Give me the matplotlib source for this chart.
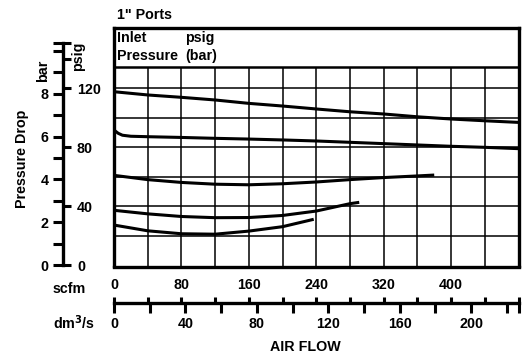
import numpy as np
import matplotlib
matplotlib.use("Agg")
import matplotlib.pyplot as plt

plt.rcParams['font.family'] = ['Liberation Sans', 'DejaVu Sans']
plt.rcParams['font.weight'] = 'bold'
plt.rcParams['font.size'] = 10.3

# ---- data (scfm on x, psig on y) ----
flow_scfm = [0, 40, 80, 120, 160, 200, 240, 280, 320, 360, 400, 440, 480]
drop_120 = [117.5, 115.3, 113.7, 111.9, 109.6, 107.8, 105.8, 103.9, 102.4, 100.5, 99.0, 97.8, 96.7]

flow_80 = [0, 5, 10, 20, 40, 80, 120, 160, 200, 240, 280, 320, 360, 400, 440, 480]
drop_80 = [91.5, 89.3, 88.0, 87.3, 87.0, 86.5, 85.9, 85.4, 84.8, 84.1, 83.2, 82.3, 81.4, 80.5, 79.8, 78.9]

flow_60 = [0, 40, 80, 120, 160, 200, 240, 280, 320, 360, 380]
drop_60 = [60.8, 57.9, 56.0, 54.8, 54.4, 55.1, 56.3, 57.9, 59.3, 60.4, 61.0]

flow_40 = [0, 40, 80, 120, 160, 200, 240, 280, 291]
drop_40 = [37.1, 34.7, 32.9, 32.1, 32.2, 33.6, 36.6, 41.6, 42.5]

flow_20 = [0, 40, 80, 120, 160, 200, 237]
drop_20 = [27.1, 23.2, 21.2, 20.9, 23.0, 26.0, 31.0]

scfm_ticks = list(range(0, 481, 40))
scfm_labels = ['0', '', '80', '', '160', '', '240', '', '320', '', '400', '', '']
dm3s_ticks = list(range(0, 221, 20))
dm3s_labels = ['0', '', '40', '', '80', '', '120', '', '160', '', '200', '']
bar_ticks = list(range(0, 11))
bar_labels = ['0', '', '2', '', '4', '', '6', '', '8', '', '']
psig_ticks = [0, 40, 80, 120, 140]
psig_labels = ['0', '40', '80', '120', '']

PSI_PER_BAR = 14.5038
SCFM_PER_DM3S = 1 / 0.4719474
header_y = 134
scale_top = 150.5
ymin, ymax = -1, 160.7

W, H = 527, 358
fig = plt.figure(figsize=(W / 100, H / 100), dpi=100)


def box(x0, y0, x1, y1):
    return [x0 / W, 1 - y1 / H, (x1 - x0) / W, (y1 - y0) / H]


# main chart
ax = fig.add_axes(box(114, 28, 518.5, 266.5))
ax.set_xlim(0, 480)
ax.set_ylim(ymin, ymax)
ax.set_xticks([])
ax.set_yticks([])
for s in ax.spines.values():
    s.set_linewidth(2.4)
ax.vlines(scfm_ticks[1:-1], ymin, header_y, color='black', lw=1.1)
ax.hlines([20, 40, 60, 80, 100, 120], 0, 480, color='black', lw=1.1)
ax.axhline(header_y, color='black', lw=1.8)

for fx, fy in [(flow_scfm, drop_120), (flow_80, drop_80), (flow_60, drop_60),
               (flow_40, drop_40), (flow_20, drop_20)]:
    ax.plot(fx, fy, color='black', lw=2.2, solid_capstyle='butt')

ax.text(4, 154, 'Inlet', ha='left', va='center')
ax.text(4, 142, 'Pressure', ha='left', va='center')
ax.text(84, 154, 'psig', ha='left', va='center')
ax.text(84, 142, '(bar)', ha='left', va='center')
ax.text(4, 169.5, '1" Ports', ha='left', va='center', clip_on=False)

# left pressure scale
sc = fig.add_axes(box(63, 28, 63.01, 266.5))
sc.set_ylim(ymin, ymax)
sc.set_xticks([])
sc2 = sc.twinx()
for k in ['top', 'bottom', 'right']:
    sc.spines[k].set_visible(False)
sc.spines['left'].set_linewidth(2.4)
sc.spines['left'].set_bounds(0, scale_top)
sc.yaxis.tick_left()
sc.set_yticks([b * PSI_PER_BAR for b in bar_ticks] + [scale_top])
sc.set_yticklabels(bar_labels + [''])
sc.tick_params(axis='y', direction='out', length=7.5, width=2.2, pad=3)
sc.patch.set_visible(False)

sc2.set_ylim(ymin, ymax)
for k in ['top', 'bottom', 'left', 'right']:
    sc2.spines[k].set_visible(False)
sc2.yaxis.tick_right()
sc2.set_yticks(psig_ticks + [scale_top])
sc2.set_yticklabels(psig_labels + [''])
sc2.tick_params(axis='y', direction='out', length=6, width=2.2, pad=4)

fig.text(43 / W, 1 - 71 / H, 'bar', rotation=90, ha='center', va='center')
fig.text(78 / W, 1 - 56 / H, 'psig', rotation=90, ha='center', va='center')
fig.text(22 / W, 1 - 159 / H, 'Pressure Drop', rotation=90, ha='center', va='center')

# bottom flow scale
fl = fig.add_axes(box(114, 303, 518.5, 303.01))
fl.set_xlim(0, 480)
fl.set_yticks([])
fl2 = fl.twiny()
for k in ['top', 'left', 'right']:
    fl.spines[k].set_visible(False)
fl.spines['bottom'].set_linewidth(2.4)
fl.spines['bottom'].set_bounds(0, 480)
fl.xaxis.tick_top()
fl.set_xticks(scfm_ticks)
fl.set_xticklabels(scfm_labels)
fl.tick_params(axis='x', direction='out', length=4, width=2.2, pad=4)
fl.patch.set_visible(False)

fl2.set_xlim(0, 480)
for k in ['top', 'bottom', 'left', 'right']:
    fl2.spines[k].set_visible(False)
fl2.xaxis.tick_bottom()
fl2.set_xticks([d * SCFM_PER_DM3S for d in dm3s_ticks] + [480])
fl2.set_xticklabels(dm3s_labels + [''])
fl2.tick_params(axis='x', direction='out', length=7, width=2.2, pad=3)

fig.text(53 / W, 1 - 289 / H, 'scfm', ha='left', va='center')
fig.text(53 / W, 1 - 323 / H, 'dm$^3$/s', ha='left', va='center')
fig.text(305 / W, 1 - 347 / H, 'AIR FLOW', ha='center', va='center')

fig.savefig('out.png', dpi=100)
